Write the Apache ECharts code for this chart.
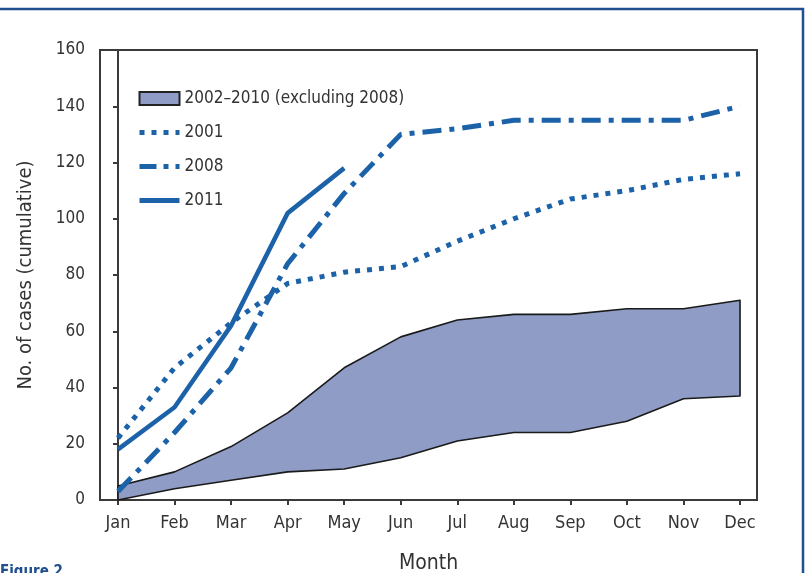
<!DOCTYPE html>
<html>
<head>
<meta charset="utf-8">
<script src="https://cdn.jsdelivr.net/npm/echarts@6/dist/echarts.min.js"></script>
<style>
  html, body { margin: 0; padding: 0; background: #fff; }
  #chart { width: 805px; height: 573px; }
</style>
</head>
<body>
<div id="chart"></div>
<script>
// data
var months = ['Jan', 'Feb', 'Mar', 'Apr', 'May', 'Jun', 'Jul', 'Aug', 'Sep', 'Oct', 'Nov', 'Dec'];
var bandLow = [0, 4, 7, 10, 11, 15, 21, 24, 24, 28, 36, 37];
var bandHigh = [5, 10, 19, 31, 47, 58, 64, 66, 66, 68, 68, 71];
var y2001 = [22, 47, 63, 77, 81, 83, 92, 100, 107, 110, 114, 116];
var y2008 = [3, 24, 47, 84, 109, 130, 132, 135, 135, 135, 135, 140];
var y2011 = [18, 33, 62, 102, 118];
var yTicks = [0, 20, 40, 60, 80, 100, 120, 140, 160];

var FONT = "'Liberation Sans Narrow', 'DejaVu Sans Condensed', sans-serif";
var BLUE = '#1c62a9';
var BAND = '#8e9cc6';
var bandName = '2002\u20132010 (excluding 2008)';

var DOTS = [5, 7];
var DASHDOT = [19, 8, 5, 8];

function pairs(arr) {
    return arr.map(function (v, i) { return [i, v]; });
}

// hide the round marker ECharts puts in the middle of line legend icons
var noMarker = { opacity: 0 };

var chart = echarts.init(document.getElementById('chart'));
chart.setOption({
    backgroundColor: '#fff',
    animation: false,
    textStyle: { fontFamily: FONT },
    grid: {
        left: 100, right: 48, top: 50, bottom: 73,
        outerBoundsMode: 'none',
        containLabel: false,
        show: true,
        borderColor: '#3a3a3a',
        borderWidth: 2
    },
    legend: {
        orient: 'vertical',
        left: 132,
        top: 85,
        itemWidth: 40,
        itemHeight: 13,
        itemGap: 17,
        selectedMode: false,
        textStyle: { fontFamily: FONT, fontSize: 17, color: '#333' },
        data: [
            { name: bandName, icon: 'rect', itemStyle: { color: BAND, borderColor: '#222', borderWidth: 2 } },
            { name: '2001', itemStyle: noMarker, lineStyle: { width: 5, type: DOTS, cap: 'butt' } },
            { name: '2008', itemStyle: noMarker, lineStyle: { width: 5, type: [17, 7, 5, 7], cap: 'butt' } },
            { name: '2011', itemStyle: noMarker, lineStyle: { width: 5 } }
        ]
    },
    xAxis: {
        type: 'value',
        min: -0.318,
        max: 11.3,
        name: 'Month',
        nameLocation: 'middle',
        nameGap: 53,
        nameTextStyle: { fontFamily: FONT, fontSize: 21, color: '#333' },
        splitLine: { show: false },
        axisLine: { lineStyle: { color: '#3a3a3a', width: 2 } },
        axisTick: {
            customValues: months.map(function (m, i) { return i; }),
            length: 5,
            lineStyle: { color: '#3a3a3a', width: 2 }
        },
        axisLabel: {
            customValues: months.map(function (m, i) { return i; }),
            formatter: function (v) { return months[Math.round(v)]; },
            margin: 14,
            fontFamily: FONT,
            fontSize: 18,
            color: '#333'
        }
    },
    yAxis: {
        type: 'value',
        min: 0,
        max: 160,
        interval: 20,
        name: 'No. of cases (cumulative)',
        nameLocation: 'middle',
        nameGap: 64,
        nameTextStyle: { fontFamily: FONT, fontSize: 20, color: '#333' },
        splitLine: { show: false },
        axisLine: { show: true, lineStyle: { color: '#3a3a3a', width: 2 } },
        axisTick: { show: true, length: 5, lineStyle: { color: '#3a3a3a', width: 2 } },
        axisLabel: {
            margin: 15,
            fontFamily: FONT,
            fontSize: 17,
            color: '#333',
            formatter: function (v) { return yTicks.indexOf(v) >= 0 ? String(v) : ''; }
        }
    },
    series: [
        {
            name: bandName,
            type: 'custom',
            itemStyle: { color: BAND },
            data: months.map(function (m, i) { return [i, bandLow[i], bandHigh[i]]; }),
            encode: { x: 0, y: [1, 2] },
            renderItem: function (params, api) {
                if (params.dataIndex !== 0) return null;
                var pts = [];
                for (var i = 0; i < months.length; i++) pts.push(api.coord([i, bandHigh[i]]));
                for (var j = months.length - 1; j >= 0; j--) pts.push(api.coord([j, bandLow[j]]));
                return {
                    type: 'polygon',
                    shape: { points: pts },
                    style: { fill: BAND, stroke: '#1a1a1a', lineWidth: 1.6, lineJoin: 'round' }
                };
            },
            z: 1
        },
        {
            name: '2001',
            type: 'line',
            data: pairs(y2001),
            showSymbol: false,
            symbol: 'none',
            color: BLUE,
            lineStyle: { color: BLUE, width: 5, type: DOTS, cap: 'butt' },
            z: 3
        },
        {
            name: '2008',
            type: 'line',
            data: pairs(y2008),
            showSymbol: false,
            symbol: 'none',
            color: BLUE,
            lineStyle: { color: BLUE, width: 5, type: DASHDOT, cap: 'butt' },
            z: 3
        },
        {
            name: '2011',
            type: 'line',
            data: pairs(y2011),
            showSymbol: false,
            symbol: 'none',
            color: BLUE,
            lineStyle: { color: BLUE, width: 4.5 },
            z: 3
        }
    ],
    graphic: [
        {
            type: 'polyline',
            shape: { points: [[0, 9], [803, 9], [803, 573]] },
            style: { stroke: '#1f4f8f', lineWidth: 2.5, fill: null },
            silent: true
        },
        {
            type: 'text',
            left: 0,
            top: 565,
            style: { text: 'Figure 2', fontFamily: FONT, fontSize: 15, fontWeight: 'bold', fill: '#1f4f8f' },
            silent: true
        }
    ]
});
</script>
</body>
</html>
